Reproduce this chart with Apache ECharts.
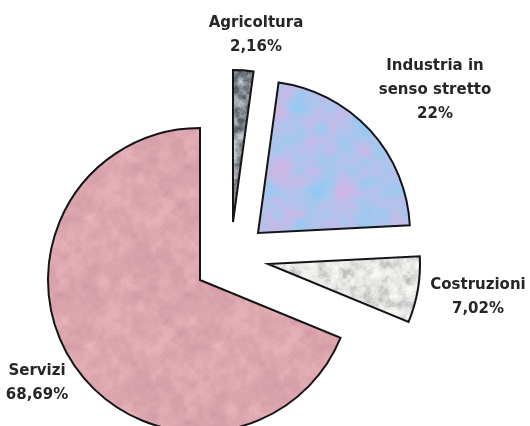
<!DOCTYPE html>
<html>
<head>
<meta charset="utf-8">
<script src="https://cdn.jsdelivr.net/npm/echarts@6/dist/echarts.min.js"></script>
<style>
  html, body { margin: 0; padding: 0; background: #fff; }
  #chart { width: 530px; height: 426px; }
</style>
</head>
<body>
<div id="chart"></div>
<script>
// Ripartizione per settore (quote percentuali)
const categories = ['Agricoltura', 'Industria in senso stretto', 'Costruzioni', 'Servizi'];
const shares = [2.16, 22, 7.02, 68.69];
const labelNames = ['Agricoltura', 'Industria in\nsenso stretto', 'Costruzioni', 'Servizi'];

// Layout: each sector is drawn by its own pie so it can be pulled out freely
const RADIUS = 152;
const sectorCenters = [[233, 222], [258, 233], [268, 264], [200, 280]];
const labelAnchors = [[256, 35], [435, 90], [478, 297], [37, 383]];

// Mottled fill textures (deterministic tileable value noise)
function hash(ix, iy, seed) {
  const s = Math.sin(ix * 127.1 + iy * 311.7 + seed * 74.7) * 43758.5453;
  return s - Math.floor(s);
}
function smooth(t) { return t * t * (3 - 2 * t); }
function valueNoise(x, y, period, seed) {
  const x0 = Math.floor(x), y0 = Math.floor(y);
  const fx = smooth(x - x0), fy = smooth(y - y0);
  const xa = ((x0 % period) + period) % period, xb = (xa + 1) % period;
  const ya = ((y0 % period) + period) % period, yb = (ya + 1) % period;
  const a = hash(xa, ya, seed), b = hash(xb, ya, seed);
  const c = hash(xa, yb, seed), d = hash(xb, yb, seed);
  return (a * (1 - fx) + b * fx) * (1 - fy) + (c * (1 - fx) + d * fx) * fy;
}
function mixStops(stops, t) {
  t = Math.max(0, Math.min(1, t));
  const n = stops.length - 1;
  const k = Math.min(n - 1, Math.floor(t * n));
  const f = t * n - k;
  const A = stops[k], B = stops[k + 1];
  return [A[0] + (B[0] - A[0]) * f, A[1] + (B[1] - A[1]) * f, A[2] + (B[2] - A[2]) * f];
}
function texture(stops, cells, octaves, seed, contrast) {
  const size = 128;
  const cv = document.createElement('canvas');
  cv.width = size; cv.height = size;
  const ctx = cv.getContext('2d');
  const img = ctx.createImageData(size, size);
  for (let y = 0; y < size; y++) {
    for (let x = 0; x < size; x++) {
      let v = 0, amp = 1, tot = 0, per = cells;
      for (let o = 0; o < octaves; o++) {
        v += amp * valueNoise(x / size * per, y / size * per, per, seed + o * 13);
        tot += amp; amp *= 0.6; per *= 2;
      }
      v = (v / tot - 0.5) * contrast + 0.5;
      const c = mixStops(stops, v);
      const i = (y * size + x) * 4;
      img.data[i] = c[0]; img.data[i + 1] = c[1]; img.data[i + 2] = c[2]; img.data[i + 3] = 255;
    }
  }
  ctx.putImageData(img, 0, 0);
  return { image: cv, repeat: 'repeat' };
}

const fills = [
  texture([[85, 92, 100], [148, 154, 160], [205, 208, 212]], 16, 4, 3, 2.0),
  texture([[140, 202, 242], [168, 198, 238], [204, 182, 228]], 6, 4, 7, 1.6),
  texture([[190, 190, 188], [228, 228, 226], [248, 248, 246]], 16, 4, 11, 2.0),
  texture([[208, 152, 164], [222, 167, 175], [234, 184, 190]], 10, 4, 5, 1.3)
];

const fmtShare = v => String(v).replace('.', ',') + '%';

const series = categories.map((cat, s) => ({
  type: 'pie',
  silent: true,
  center: sectorCenters[s],
  radius: [0, RADIUS],
  startAngle: 90,
  clockwise: true,
  avoidLabelOverlap: false,
  animation: false,
  labelLine: { show: false },
  emphasis: { disabled: true },
  labelLayout: function () {
    return { x: labelAnchors[s][0], y: labelAnchors[s][1], align: 'center', verticalAlign: 'middle' };
  },
  data: categories.map((name, i) => i === s ? {
    name: name,
    value: shares[i],
    itemStyle: { color: fills[i], borderColor: '#141414', borderWidth: 2, borderJoin: 'miter' },
    label: {
      show: true,
      formatter: () => labelNames[i] + '\n' + fmtShare(shares[i]),
      fontFamily: 'DejaVu Sans',
      fontWeight: 'bold',
      fontSize: 15,
      lineHeight: 24,
      color: '#262626',
      align: 'center'
    }
  } : {
    name: name,
    value: shares[i],
    itemStyle: { color: 'rgba(0,0,0,0)', borderWidth: 0 },
    label: { show: false }
  })
}));

const chart = echarts.init(document.getElementById('chart'), null, { renderer: 'canvas' });
chart.setOption({
  backgroundColor: '#ffffff',
  tooltip: { show: false },
  series: series
});
</script>
</body>
</html>
